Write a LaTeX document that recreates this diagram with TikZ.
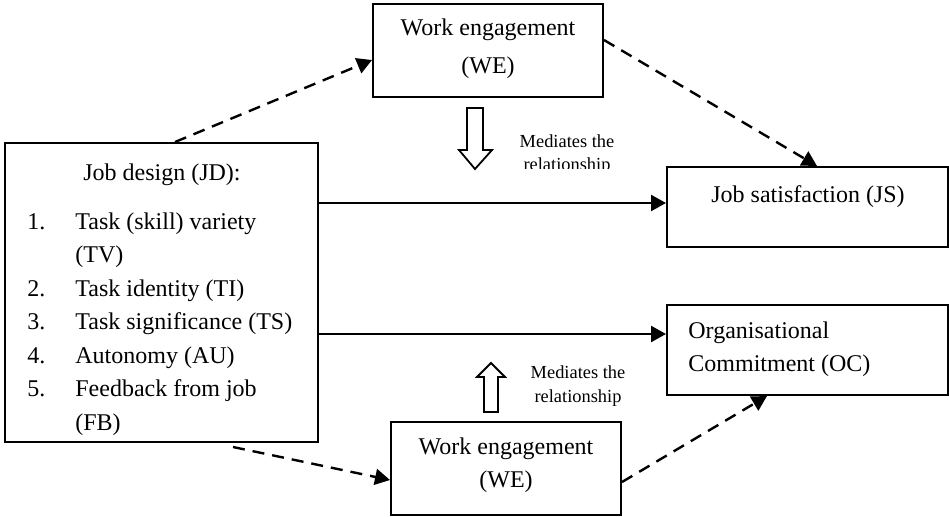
\documentclass[tikz,border=0pt]{standalone}
\usepackage{fontspec}
\setmainfont{Liberation Serif}
\usetikzlibrary{arrows.meta,calc}
\begin{document}
\begin{tikzpicture}[x=0.5pt,y=-0.5pt,
  box/.style={draw, line width=1pt, inner sep=0pt, rectangle},
  txt/.style={inner sep=0pt, font=\fontsize{12}{16.75}\selectfont},
  small/.style={inner sep=0pt, font=\fontsize{9.2}{11.5}\selectfont},
  solidarr/.style={line width=1.2pt, -{Triangle[length=7.5pt,width=8pt]}},
  dasharr/.style={solidarr, dash pattern=on 6pt off 4pt},
  hollow/.style={draw, line width=0.9pt, fill=white, line join=miter}]
\useasboundingbox (0,0) rectangle (949,516);
% boxes
\node[box, minimum width=115pt, minimum height=46.5pt] (we1) at (488,50.5) {};
\node[box, minimum width=156.5pt, minimum height=149.5pt] (jd) at (161.5,292.5) {};
\node[box, minimum width=140.5pt, minimum height=40pt] (js) at (807.5,207) {};
\node[box, minimum width=140.5pt, minimum height=45pt] (oc) at (807.5,350) {};
\node[box, minimum width=115pt, minimum height=46.5pt] (we2) at (506,468.5) {};
% texts
\node[txt, anchor=base] (we1a) at (488,35) {Work engagement};
\node[txt, anchor=base] (we1b) at (488,73) {(WE)};
\node[txt, anchor=base] (jdt) at (162,180) {Job design (JD):};
\node[txt, anchor=base west] (jdl) at (27,229) {\begin{tabular}[t]{@{}p{24pt}@{}l@{}}
1. & Task (skill) variety\\
   & (TV)\\
2. & Task identity (TI)\\
3. & Task significance (TS)\\
4. & Autonomy (AU)\\
5. & Feedback from job\\
   & (FB)
\end{tabular}};
\node[txt, anchor=base] (jst) at (808,202) {Job satisfaction (JS)};
\node[txt, anchor=base west] (oca) at (688,338) {Organisational};
\node[txt, anchor=base west] (ocb) at (688,371) {Commitment (OC)};
\node[txt, anchor=base] (we2a) at (506,454) {Work engagement};
\node[txt, anchor=base] (we2b) at (506,487) {(WE)};
% mediates labels
\begin{scope}
\clip (500,120) rectangle (640,168.5);
\node[small, anchor=base] (m1a) at (567,147) {Mediates the};
\node[small, anchor=base] (m1b) at (567,170) {relationship};
\end{scope}
\node[small, anchor=base] (m2a) at (578,378) {Mediates the};
\node[small, anchor=base] (m2b) at (578,402) {relationship};
% hollow arrows
\draw[hollow] (467,108) -- (483,108) -- (483,150) -- (492,150) -- (475,169) -- (459,150) -- (467,150) -- cycle;
\draw[hollow] (484,412) -- (498,412) -- (498,377) -- (505,377) -- (491,363) -- (477,377) -- (484,377) -- cycle;
% connectors
\draw[dasharr] ($(jd.north)+(13.5,0)$) -- ($(we1.west)+(0,9.5)$);
\draw[dasharr] ($(we1.east)+(0,-10.5)$) -- ($(js.north)+(9.5,0)$);
\draw[solidarr] ($(jd.north east)+(0,61)$) -- ($(js.north west)+(0,37)$);
\draw[solidarr] ($(jd.north east)+(0,192)$) -- ($(oc.north west)+(0,30)$);
\draw[dasharr] ($(jd.south)+(71.5,4)$) -- ($(we2.west)+(0,11.5)$);
\draw[dasharr] ($(we2.east)+(0,13.5)$) -- ($(oc.south)+(-40.5,0)$);
\end{tikzpicture}
\end{document}
